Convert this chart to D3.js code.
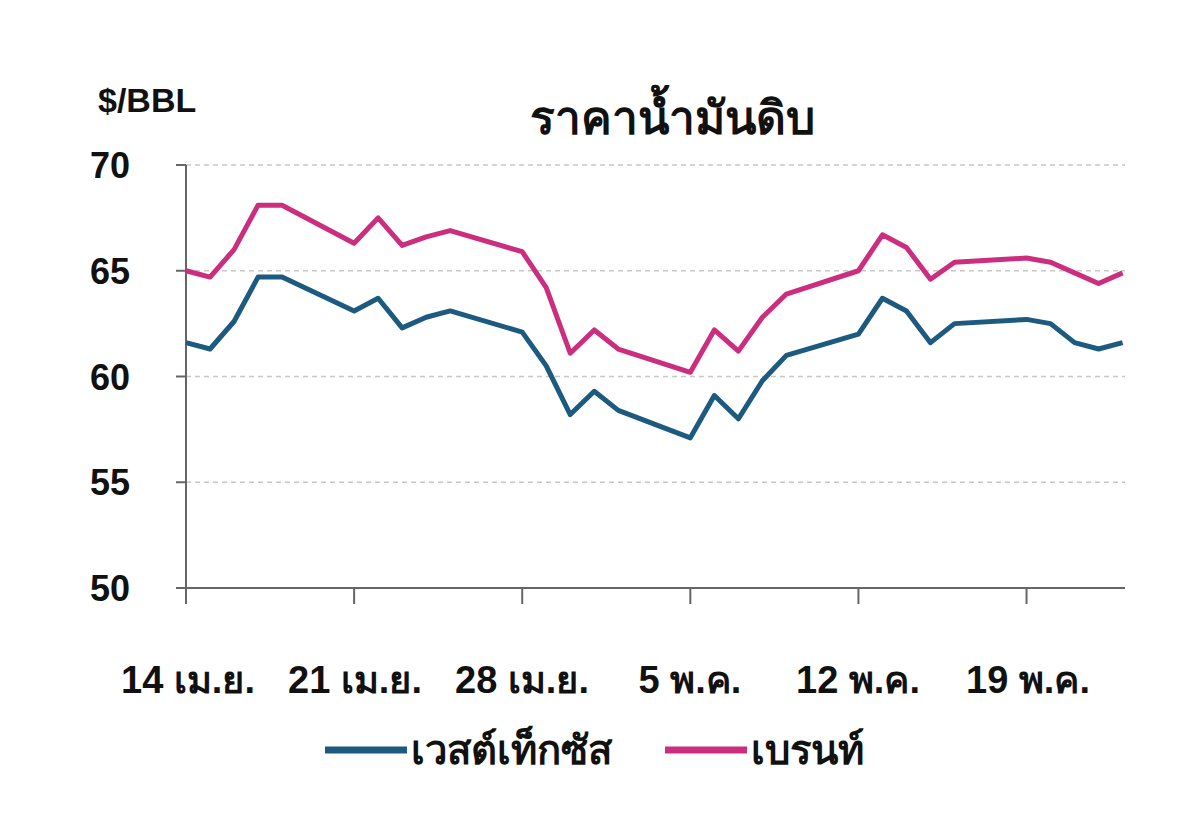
<!DOCTYPE html><html><head><meta charset="utf-8">
<script src="https://cdn.jsdelivr.net/npm/d3@7"></script>
<style>body{margin:0;background:#fff}text{font-family:"Liberation Sans","Noto Sans",sans-serif;font-weight:bold;fill:#111}</style>
</head><body><svg id="c" width="1200" height="833"></svg>
<script>
const days=[0,1,2,3,4,7,8,9,10,11,14,15,16,17,18,21,22,23,24,25,28,29,30,31,32,35,36,37,38,39];
const wti=[61.6,61.3,62.6,64.7,64.7,63.1,63.7,62.3,62.8,63.1,62.1,60.5,58.2,59.3,58.4,57.1,59.1,58.0,59.8,61.0,62.0,63.7,63.1,61.6,62.5,62.7,62.5,61.6,61.3,61.6];
const brent=[65.0,64.7,66.0,68.1,68.1,66.3,67.5,66.2,66.6,66.9,65.9,64.2,61.1,62.2,61.3,60.2,62.2,61.2,62.8,63.9,65.0,66.7,66.1,64.6,65.4,65.6,65.4,64.9,64.4,64.9];
const xTicks=[0,7,14,21,28,35];
const xLabels=["14 เม.ย.","21 เม.ย.","28 เม.ย.","5 พ.ค.","12 พ.ค.","19 พ.ค."];
const yTicks=[50,55,60,65,70];
const svg=d3.select("#c");
const x=d3.scaleLinear().domain([0,39.1]).range([186,1125]);
const y=d3.scaleLinear().domain([50,70]).range([588,165]);
svg.append("g").selectAll("line").data(yTicks.slice(1)).join("line")
 .attr("x1",186).attr("x2",1125).attr("y1",d=>y(d)).attr("y2",d=>y(d))
 .attr("stroke","#c8c8c8").attr("stroke-width",1.5).attr("stroke-dasharray","5,4");
svg.append("line").attr("x1",186).attr("x2",186).attr("y1",165).attr("y2",588).attr("stroke","#666").attr("stroke-width",2);
svg.append("line").attr("x1",186).attr("x2",1125).attr("y1",588).attr("y2",588).attr("stroke","#666").attr("stroke-width",2);
svg.append("g").selectAll("line").data(yTicks).join("line").attr("x1",176).attr("x2",186).attr("y1",d=>y(d)).attr("y2",d=>y(d)).attr("stroke","#666").attr("stroke-width",2);
svg.append("g").selectAll("line").data(xTicks).join("line").attr("x1",d=>x(d)).attr("x2",d=>x(d)).attr("y1",588).attr("y2",604).attr("stroke","#666").attr("stroke-width",2);
svg.append("g").selectAll("text").data(yTicks).join("text").attr("x",130).attr("y",d=>y(d)+13).attr("text-anchor","end").attr("font-size",36).text(d=>d);
svg.append("g").selectAll("text").data(xTicks).join("text").attr("y",693).attr("text-anchor","middle").attr("font-size",38)
 .attr("x",(d,i)=>[188,355,522,690,858,1028][i]).text((d,i)=>xLabels[i]);
const line=d3.line().x((d,i)=>x(days[i])).y(d=>y(d));
svg.append("path").datum(brent).attr("d",line).attr("fill","none").attr("stroke","#cc2e7f").attr("stroke-width",5).attr("stroke-linejoin","round");
svg.append("path").datum(wti).attr("d",line).attr("fill","none").attr("stroke","#1d5a80").attr("stroke-width",5).attr("stroke-linejoin","round");
svg.append("text").attr("x",98).attr("y",112).attr("font-size",34).text("$/BBL");
svg.append("text").attr("x",672).attr("y",134).attr("text-anchor","middle").attr("font-size",46).text("ราคาน้ำมันดิบ");
const leg=[["เวสต์เท็กซัส","#1d5a80",325],["เบรนท์","#cc2e7f",665]];
leg.forEach(([t,c,lx])=>{svg.append("line").attr("x1",lx).attr("x2",lx+82).attr("y1",750).attr("y2",750).attr("stroke",c).attr("stroke-width",7);
 svg.append("text").attr("x",lx+86).attr("y",764).attr("font-size",40).text(t);});
</script></body></html>
